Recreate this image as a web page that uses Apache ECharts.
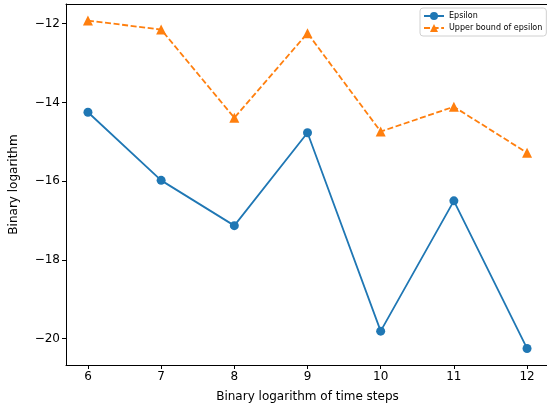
<!DOCTYPE html>
<html>
<head>
<meta charset="utf-8">
<script src="https://cdn.jsdelivr.net/npm/echarts@6/dist/echarts.min.js"></script>
<style>
  html, body { margin: 0; padding: 0; background: #fff; }
  #main { width: 547px; height: 413px; }
</style>
</head>
<body>
<div id="main"></div>
<script>
// data
var steps = [6, 7, 8, 9, 10, 11, 12];
var epsilon = [-14.25, -15.98, -17.13, -14.77, -19.81, -16.5, -20.25];
var upperBound = [-11.92, -12.15, -14.39, -12.24, -14.74, -14.11, -15.28];
var xTicks = [6, 7, 8, 9, 10, 11, 12];
var yTicks = [-20, -18, -16, -14, -12];

function pairs(xs, ys) {
  return xs.map(function (x, i) { return [x, ys[i]]; });
}

// matplotlib uses a real minus sign
function minus(v) {
  return String(v).replace('-', '\u2212');
}

var chart = echarts.init(document.getElementById('main'));

var option = {
  animation: false,
  textStyle: { fontFamily: 'DejaVu Sans' },
  grid: {
    left: 66, top: 4, right: -2, bottom: 48,
    containLabel: false,
    outerBoundsMode: 'none',
    show: false
  },
  legend: {
    orient: 'vertical',
    top: 8, left: 420,
    backgroundColor: '#fff',
    borderColor: '#d0d0d0', borderWidth: 1, borderRadius: 3,
    padding: [4, 4, 4, 3],
    itemGap: 4,
    itemWidth: 20, itemHeight: 10,
    textStyle: { fontSize: 8, color: '#000', fontFamily: 'DejaVu Sans' },
    data: ['Epsilon', 'Upper bound of epsilon']
  },
  xAxis: [{
    type: 'value',
    min: 5.7, max: 12.3,
    name: 'Binary logarithm of time steps',
    nameLocation: 'middle',
    nameGap: 26,
    nameTextStyle: { fontSize: 12, color: '#000', fontFamily: 'DejaVu Sans' },
    axisLine: { show: true, onZero: false, lineStyle: { color: '#000', width: 1 } },
    axisTick: { show: true, length: 4, customValues: xTicks, lineStyle: { color: '#000' } },
    axisLabel: { customValues: xTicks, fontSize: 12, color: '#000', margin: 6, formatter: minus },
    splitLine: { show: false }
  }, {
    // top spine only
    type: 'value',
    position: 'top',
    min: 5.7, max: 12.3,
    axisLine: { show: true, onZero: false, lineStyle: { color: '#000', width: 1 } },
    axisTick: { show: false },
    axisLabel: { show: false },
    splitLine: { show: false }
  }],
  yAxis: {
    type: 'value',
    min: -20.67, max: -11.5,
    name: 'Binary logarithm',
    nameLocation: 'middle',
    nameGap: 46,
    nameTextStyle: { fontSize: 12, color: '#000', fontFamily: 'DejaVu Sans' },
    axisLine: { show: true, onZero: false, lineStyle: { color: '#000', width: 1 } },
    axisTick: { show: true, length: 4, customValues: yTicks, lineStyle: { color: '#000' } },
    axisLabel: { customValues: yTicks, fontSize: 12, color: '#000', margin: 6, formatter: minus },
    splitLine: { show: false }
  },
  series: [
    {
      name: 'Epsilon',
      type: 'line',
      data: pairs(steps, epsilon),
      symbol: 'circle',
      symbolSize: 9,
      color: '#1f77b4',
      lineStyle: { width: 1.8, color: '#1f77b4' },
      itemStyle: { color: '#1f77b4' }
    },
    {
      name: 'Upper bound of epsilon',
      type: 'line',
      data: pairs(steps, upperBound),
      symbol: 'triangle',
      symbolSize: 10,
      color: '#ff7f0e',
      lineStyle: { width: 1.8, color: '#ff7f0e', type: [6, 2.6] },
      itemStyle: { color: '#ff7f0e' }
    }
  ]
};

chart.setOption(option);
</script>
</body>
</html>
